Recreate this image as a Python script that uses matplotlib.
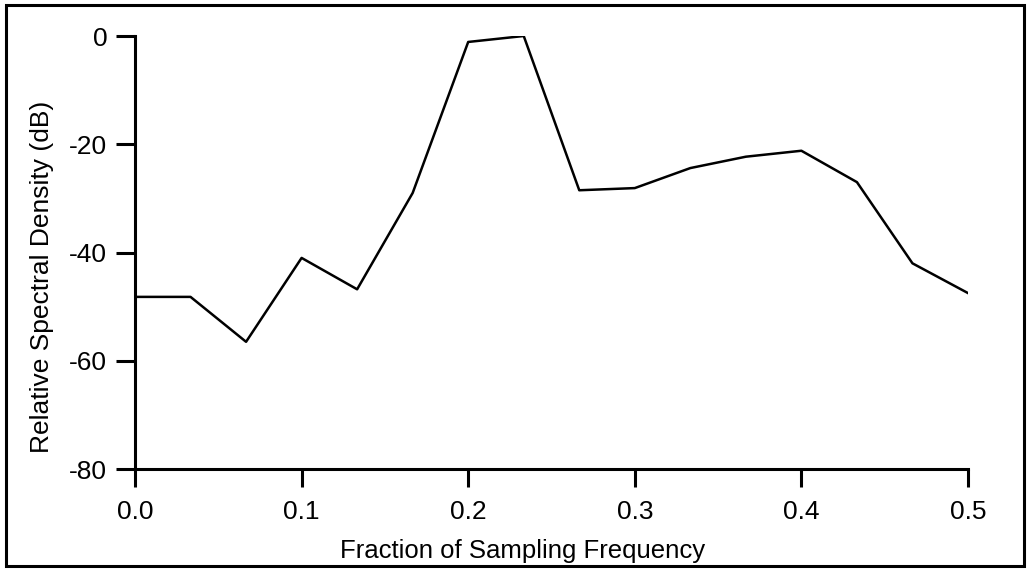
import numpy as np
import matplotlib
matplotlib.use("Agg")
import matplotlib.pyplot as plt
from matplotlib.patches import Rectangle

plt.rcParams['font.family'] = ['Liberation Sans', 'DejaVu Sans']

# Spectrum sampled at k/30 of the sampling frequency
freq = np.arange(16) / 30.0
density_db = [-48.2, -48.2, -56.5, -41.0, -46.8, -29.0, -1.1, 0.0,
              -28.5, -28.1, -24.4, -22.3, -21.2, -27.0, -42.0, -47.5]

x_ticks = [0.0, 0.1, 0.2, 0.3, 0.4, 0.5]
y_ticks = [0, -20, -40, -60, -80]

fig = plt.figure(figsize=(10.3, 5.7), dpi=100)
ax = fig.add_axes([135 / 1030, 1 - 469 / 570, (968 - 135) / 1030, (469 - 36) / 570])

ax.plot(freq, density_db, color='black', lw=1.8)

ax.set_xlim(0, 0.5)
ax.set_ylim(-80, 0)
ax.set_xticks(x_ticks)
ax.set_xticklabels([f"{t:.1f}" for t in x_ticks])
ax.set_yticks(y_ticks)
ax.set_yticklabels([str(t) for t in y_ticks])  # plain hyphen, not unicode minus

for side in ['top', 'right']:
    ax.spines[side].set_visible(False)
for side in ['left', 'bottom']:
    ax.spines[side].set_linewidth(2.2)

ax.tick_params(axis='both', direction='out', width=2.2, labelsize=19, colors='black')
ax.tick_params(axis='x', length=13, pad=9)
ax.tick_params(axis='y', length=14, pad=6)

ax.set_xlabel("Fraction of Sampling Frequency", fontsize=18.5)
ax.set_ylabel("Relative Spectral Density (dB)", fontsize=19)
ax.xaxis.set_label_coords(0.465, -0.162)
ax.yaxis.set_label_coords(-0.097, 0.443)

# frame around the whole figure
fig.patches.append(Rectangle((6 / 1030, 4 / 570), 1018 / 1030, 561 / 570,
                             transform=fig.transFigure, fill=False,
                             lw=2.2, edgecolor='black'))

fig.savefig("out.png", dpi=100)
